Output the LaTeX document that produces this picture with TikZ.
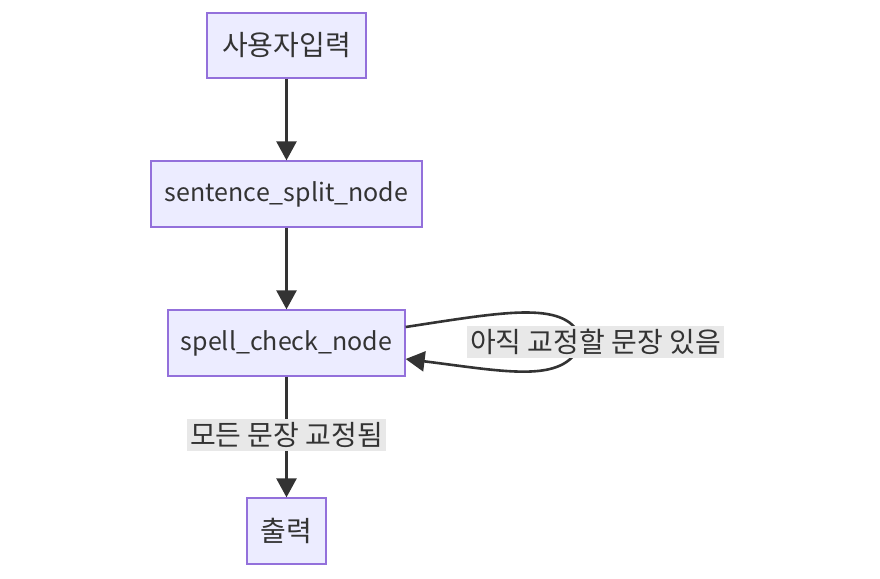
\documentclass[tikz,border=0pt]{standalone}
\usepackage{fontspec}
\setmainfont{Noto Sans CJK KR}
\usetikzlibrary{arrows.meta}
\definecolor{nodefill}{HTML}{ECECFF}
\definecolor{nodeborder}{HTML}{9370DB}
\definecolor{ink}{HTML}{333333}
\definecolor{lblbg}{HTML}{E8E8E8}
\newcommand{\kr}{\fontsize{28}{32}\selectfont}
\newcommand{\lat}{\fontsize{25}{30}\selectfont}
\tikzset{
  box/.style={draw=nodeborder, fill=nodefill, line width=1.3pt, text=ink, inner sep=0pt, anchor=center},
  conn/.style={draw=ink, line width=2.6pt, -{Triangle[length=19pt,width=20pt]}},
  lbl/.style={fill=lblbg, text=ink, font=\kr, inner xsep=3pt, inner ysep=0pt, minimum height=32pt, anchor=center}
}
\begin{document}
\begin{tikzpicture}[x=1pt,y=-1pt]
\useasboundingbox (0,0) rectangle (880,578);
\node[box, font=\kr, minimum width=159pt, minimum height=65pt] (a) at (286.5,45.5) {사용자입력};
\node[box, font=\lat, minimum width=271pt, minimum height=66pt] (b) at (286.5,194) {sentence\_split\_node};
\node[box, font=\lat, minimum width=237pt, minimum height=66pt] (c) at (286.5,343) {spell\_check\_node};
\node[box, font=\kr, minimum width=79pt, minimum height=66pt] (d) at (286.5,531) {출력};
\draw[conn] (a) -- (b);
\draw[conn] (b) -- (c);
\draw[conn] (c) -- (d) node[lbl, pos=0.48] (l1) {모든 문장 교정됨};
\coordinate (c1) at (c.east |- 0,327);
\coordinate (c2) at (c.east |- 0,359);
\draw[conn] (c1) .. controls (510,311) and (568,300) .. (582,340) .. controls (568,385) and (510,372) .. (c2);
\node[lbl] (l2) at (595.5,342) {아직 교정할 문장 있음};
\end{tikzpicture}
\end{document}
